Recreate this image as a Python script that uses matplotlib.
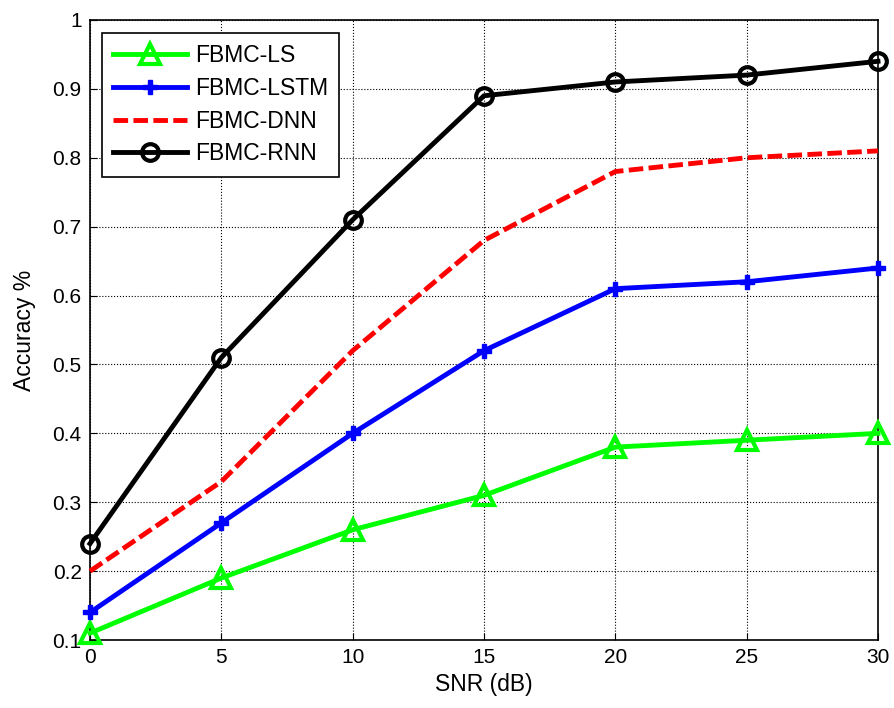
import numpy as np
import matplotlib.pyplot as plt

plt.rcParams['font.family'] = ['Liberation Sans', 'DejaVu Sans']

snr = [0, 5, 10, 15, 20, 25, 30]
acc_ls = [0.11, 0.19, 0.26, 0.31, 0.38, 0.39, 0.40]
acc_lstm = [0.14, 0.27, 0.40, 0.52, 0.61, 0.62, 0.64]
acc_dnn = [0.20, 0.33, 0.52, 0.68, 0.78, 0.80, 0.81]
acc_rnn = [0.24, 0.51, 0.71, 0.89, 0.91, 0.92, 0.94]

fig = plt.figure(figsize=(8.94, 7.08), dpi=100)
ax = fig.add_axes([0.1007, 0.096, 0.8814, 0.8758])

lw = 3.5
ax.plot(snr, acc_ls, color='#00ff00', linewidth=lw, marker='^', markersize=15,
        markerfacecolor='none', markeredgewidth=3, clip_on=False, zorder=3,
        label='FBMC-LS')
ax.plot(snr, acc_lstm, color='#0000ff', linewidth=lw, marker='P', markersize=10,
        clip_on=False, zorder=3, label='FBMC-LSTM')
ax.plot(snr, acc_dnn, color='#ff0000', linewidth=lw, linestyle=(0, (3, 1.1)),
        clip_on=False, zorder=3, label='FBMC-DNN')
ax.plot(snr, acc_rnn, color='black', linewidth=lw, marker='o', markersize=12,
        markerfacecolor='none', markeredgewidth=3, clip_on=False, zorder=3,
        label='FBMC-RNN')

ax.set_xlim(0, 30)
ax.set_ylim(0.1, 1)
ax.set_xticks(snr)
ax.set_yticks(np.arange(0.1, 1.01, 0.1))
ax.set_yticklabels(['0.1', '0.2', '0.3', '0.4', '0.5', '0.6', '0.7', '0.8', '0.9', '1'])
ax.tick_params(direction='in', labelsize=15, length=5, pad=6)
ax.grid(True, color='black', linestyle=':', linewidth=0.8)
ax.set_xlabel('SNR (dB)', fontsize=16.5, labelpad=4)
ax.set_ylabel('Accuracy %', fontsize=16.5, labelpad=12)
for s in ax.spines.values():
    s.set_linewidth(1.2)

leg = ax.legend(loc='upper left', fontsize=16.5, fancybox=False, framealpha=1,
                edgecolor='black', handlelength=3.2, handletextpad=0.35,
                borderpad=0.5, labelspacing=0.42, borderaxespad=0,
                bbox_to_anchor=(0.015, 0.979))
leg.get_frame().set_linewidth(1.2)

fig.savefig('out.png', dpi=100)
